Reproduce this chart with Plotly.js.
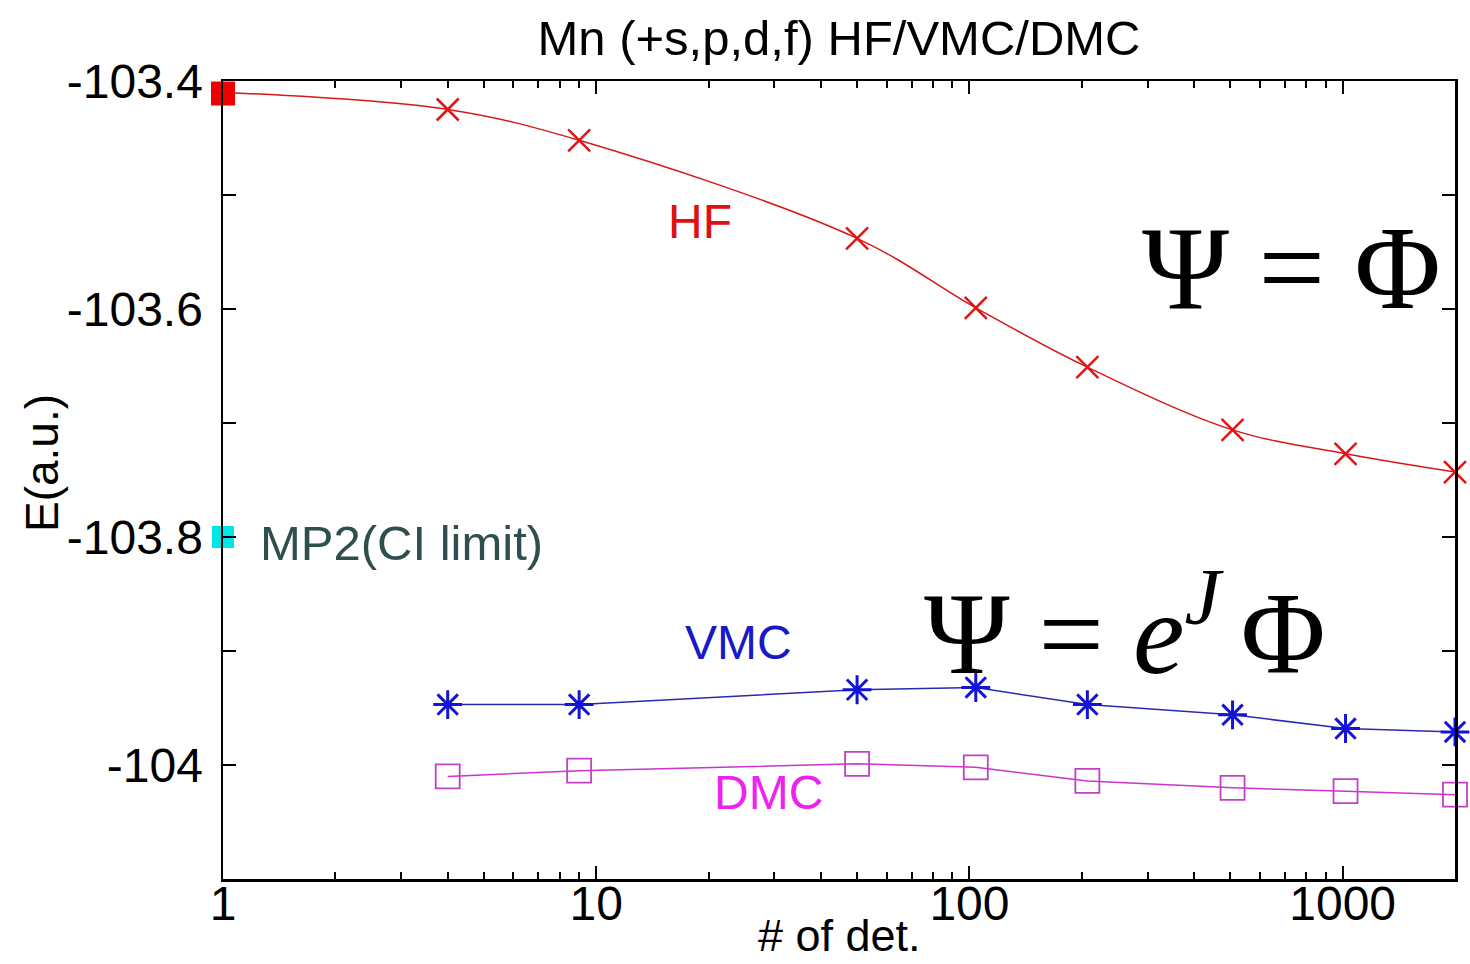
<!DOCTYPE html>
<html>
<head>
<meta charset="utf-8">
<script src="https://cdn.plot.ly/plotly-3.0.1.min.js"></script>
<style>
html,body{margin:0;padding:0;background:#fff;}
#chart{width:1470px;height:964px;}
</style>
</head>
<body>
<div id="chart"></div>
<script>
// ---- data ----
var nDet = [4, 9, 50, 104, 207, 507, 1018, 2000];
var hfX = [1, 4, 9, 50, 104, 207, 507, 1018, 2000];
var hfE = [-103.410, -103.425, -103.452, -103.538, -103.599, -103.651, -103.706, -103.727, -103.743];
var vmcE = [-103.947, -103.947, -103.934, -103.932, -103.947, -103.956, -103.968, -103.971];
var dmcE = [-104.010, -104.005, -103.999, -104.002, -104.014, -104.020, -104.023, -104.026];
var hfRefX = [1];
var hfRefE = [-103.411];
var mp2X = [1];
var mp2E = [-103.800];

var yTickVals = [-104.0, -103.8, -103.6, -103.4];
var yTickText = ['-104', '-103.8', '-103.6', '-103.4'];
var yMinorVals = [-104.1, -103.9, -103.7, -103.5];
var xTickVals = [1, 10, 100, 1000];
var xTickText = ['1', '10', '100', '1000'];
var xMinorVals = [2,3,4,5,6,7,8,9,20,30,40,50,60,70,80,90,200,300,400,500,600,700,800,900,2000];

var titleText = 'Mn (+s,p,d,f) HF/VMC/DMC';
var xTitle = '# of det.';
var yTitle = 'E(a.u.)';

// ---- layout helpers (pixel -> paper) ----
var L = 223, R = 1455, T = 81, B = 879;
function px(x){ return (x - L) / (R - L); }
function py(y){ return (B - y) / (B - T); }

var SANS = 'Liberation Sans, Arial, Helvetica, sans-serif';
var SERIF = 'Liberation Serif, Times New Roman, DejaVu Serif, serif';

var traces = [
  {x: hfX, y: hfE, mode: 'lines', type: 'scatter', line: {color: '#d81818', width: 1.5, shape: 'spline', smoothing: 1}, hoverinfo: 'skip', cliponaxis: false},
  {x: nDet, y: hfE.slice(1), mode: 'markers', type: 'scatter', marker: {symbol: 'x-thin-open', size: 22, color: '#e01515', line: {color: '#e01515', width: 2.5}}, cliponaxis: false},
  {x: hfRefX, y: hfRefE, mode: 'markers', type: 'scatter', marker: {symbol: 'square', size: 24, color: '#ee0000'}, cliponaxis: false},
  {x: mp2X, y: mp2E, mode: 'markers', type: 'scatter', marker: {symbol: 'square', size: 22, color: '#00e5e5'}, cliponaxis: false},
  {x: nDet, y: vmcE, mode: 'lines+markers', type: 'scatter', line: {color: '#2a2ab0', width: 1.5}, marker: {symbol: 'asterisk-open', size: 24, color: '#1414d8', line: {color: '#1414d8', width: 3}}, cliponaxis: false},
  {x: nDet, y: dmcE, mode: 'lines+markers', type: 'scatter', line: {color: '#cc33cc', width: 1.5}, marker: {symbol: 'square-open', size: 24, color: '#c040c8', line: {color: '#c040c8', width: 1.8}}, cliponaxis: false}
];

var layout = {
  width: 1470, height: 964,
  margin: {l: L, r: 1470 - R, t: T, b: 964 - B, pad: 0},
  paper_bgcolor: '#ffffff', plot_bgcolor: '#ffffff',
  showlegend: false,
  font: {family: SANS, color: '#000'},
  title: {text: titleText, font: {family: SANS, size: 49, color: '#000'}, x: 0.5, xref: 'paper', xanchor: 'center', y: 1 - 38/964, yref: 'container', yanchor: 'middle'},
  xaxis: {
    type: 'log', range: [0, Math.log10(2000)],
    showgrid: false, zeroline: false,
    showline: true, linecolor: '#000', linewidth: 2.5, mirror: 'ticks',
    ticks: 'inside', ticklen: 13, tickwidth: 2, tickcolor: '#000',
    tickmode: 'array', tickvals: xTickVals, ticktext: xTickText,
    tickfont: {family: SANS, size: 48, color: '#000'},
    ticklabelstandoff: -19,
    minor: {tickmode: 'array', tickvals: xMinorVals, ticks: 'inside', ticklen: 7, tickwidth: 2, tickcolor: '#000', showgrid: false}
  },
  yaxis: {
    range: [-104.1, -103.4],
    showgrid: false, zeroline: false,
    showline: true, linecolor: '#000', linewidth: 2.5, mirror: 'ticks',
    ticks: 'inside', ticklen: 13, tickwidth: 2, tickcolor: '#000',
    tickmode: 'array', tickvals: yTickVals, ticktext: yTickText,
    tickfont: {family: SANS, size: 48, color: '#000'},
    ticklabelstandoff: 8,
    minor: {tickmode: 'array', tickvals: yMinorVals, ticks: 'inside', ticklen: 13, tickwidth: 2, tickcolor: '#000', showgrid: false}
  },
  annotations: [
    {text: xTitle, xref: 'paper', yref: 'paper', x: 0.5, y: py(935), xanchor: 'center', yanchor: 'middle', showarrow: false, font: {family: SANS, size: 45, color: '#000'}},
    {text: yTitle, xref: 'paper', yref: 'paper', x: px(42), y: py(463), xanchor: 'center', yanchor: 'middle', textangle: -90, showarrow: false, font: {family: SANS, size: 46, color: '#000'}},
    {text: 'HF', xref: 'paper', yref: 'paper', x: px(700), y: py(222), xanchor: 'center', yanchor: 'middle', showarrow: false, font: {family: SANS, size: 48, color: '#e01010'}},
    {text: 'VMC', xref: 'paper', yref: 'paper', x: px(738), y: py(642), xanchor: 'center', yanchor: 'middle', showarrow: false, font: {family: SANS, size: 48, color: '#1818c8'}},
    {text: 'DMC', xref: 'paper', yref: 'paper', x: px(768), y: py(792), xanchor: 'center', yanchor: 'middle', showarrow: false, font: {family: SANS, size: 48, color: '#ee22ee'}},
    {text: 'MP2(CI limit)', xref: 'paper', yref: 'paper', x: px(258), y: py(543), xanchor: 'left', yanchor: 'middle', showarrow: false, font: {family: SANS, size: 49, color: '#2f4f4f'}},
    {text: 'Ψ = Φ', xref: 'paper', yref: 'paper', x: px(1291), y: py(268), xanchor: 'center', yanchor: 'middle', showarrow: false, font: {family: SERIF, size: 118, color: '#000'}},
    {text: 'Ψ = <i>e</i><sup><i>J</i> </sup>Φ', xref: 'paper', yref: 'paper', x: px(1125), y: py(625), xanchor: 'center', yanchor: 'middle', showarrow: false, font: {family: SERIF, size: 116, color: '#000'}}
  ]
};

Plotly.newPlot('chart', traces, layout, {displayModeBar: false, staticPlot: true});
</script>
</body>
</html>
